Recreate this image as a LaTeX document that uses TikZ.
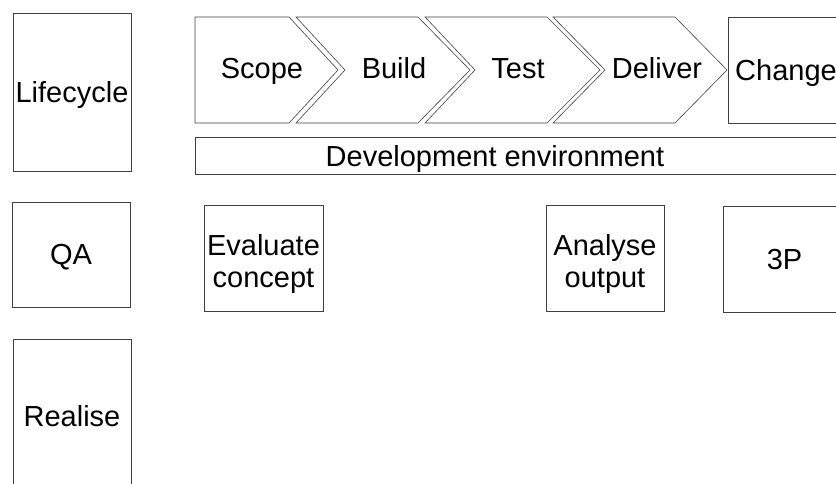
\documentclass[tikz,border=0pt]{standalone}
\usepackage{fontspec}
\setmainfont{Liberation Sans}
\tikzset{%
	box/.style      = {draw=black!75, line width=0.6pt, rectangle, inner sep=0pt,
		align=center, text height=26pt, text depth=6pt}, % plain box
	twoline/.style  = {box, text height=64pt}, % box with two lines of text
	stepline/.style = {draw=black!75, line width=0.6pt, line join=miter}, % chevron outline
	steptext/.style = {inner sep=0pt, text height=21pt, text depth=6pt} % chevron label
}

\begin{document}
\begin{tikzpicture}[x=1pt,y=-1pt,font=\fontsize{29}{32}\selectfont]
			\useasboundingbox (0,0) rectangle (836,483);

			% row labels
			\node[box, minimum width=118pt, minimum height=158pt] (lifecycle) at (72,92)    {Lifecycle};
			\node[box, minimum width=118pt, minimum height=105pt] (qa)        at (71,254.5) {QA};
			\node[box, minimum width=118pt, minimum height=154pt] (realise)   at (72,416)   {Realise};

			% phases
			\draw[stepline] (195,17) -- (289,17) -- (338,70) -- (289,123) -- (195,123) -- cycle;
			\draw[stepline] (296,17) -- (418,17) -- (470,70) -- (418,123) -- (296,123) -- (345,70) -- cycle;
			\draw[stepline] (425,17) -- (547,17) -- (600,70) -- (547,123) -- (425,123) -- (475,70) -- cycle;
			\draw[stepline] (553,17) -- (675,17) -- (727,70) -- (675,123) -- (553,123) -- (605,70) -- cycle;
			\node[steptext] (scope)   at (262,70.5) {Scope};
			\node[steptext] (build)   at (394,70.5) {Build};
			\node[steptext] (test)    at (518,70.5) {Test};
			\node[steptext] (deliver) at (657,70.5) {Deliver};
			\node[box, minimum width=116pt, minimum height=106pt] (change) at (786,70) {Change};

			\node[box, minimum width=660pt, minimum height=37pt, anchor=west] (devenv) at (195,155.5) {};
			\node[steptext] (devtext) at (495,158.5) {Development environment};

			% QA steps
			\node[twoline, minimum width=119pt, minimum height=106pt] (evaluate) at (263.5,258) {Evaluate\\concept};
			\node[twoline, minimum width=118pt, minimum height=106pt] (analyse)  at (605,258)   {Analyse\\output};
			\node[box, minimum width=123pt, minimum height=106pt] (threep)   at (784.5,259) {3P};
		\end{tikzpicture}
\end{document}
